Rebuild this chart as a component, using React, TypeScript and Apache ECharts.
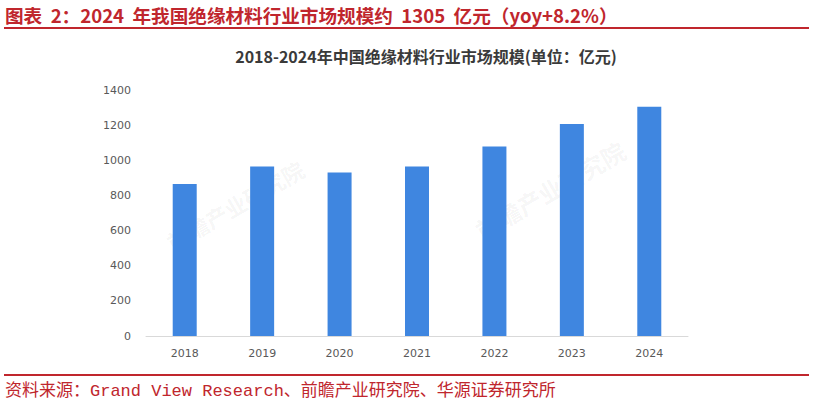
import React, { useEffect, useRef } from "react";
import * as echarts from "echarts";

const categories = ["2018", "2019", "2020", "2021", "2022", "2023", "2024"];
const marketSize = [865, 965, 930, 965, 1078, 1206, 1305];
const yTicks = [0, 200, 400, 600, 800, 1000, 1200, 1400];

const headerText = "图表  2：2024  年我国绝缘材料行业市场规模约  1305  亿元（yoy+8.2%）";
const chartTitle = "2018-2024年中国绝缘材料行业市场规模(单位：亿元)";
const sourceText = "资料来源：Grand View Research、前瞻产业研究院、华源证券研究所";
const watermark = "前瞻产业研究院";

export default function App() {
  const ref = useRef<HTMLDivElement>(null);
  useEffect(() => {
    if (!ref.current) return;
    const chart = echarts.init(ref.current, null, { renderer: "svg" });
    const red = "#C0262D";
    chart.setOption({
      animation: false,
      backgroundColor: "#ffffff",
      grid: { left: 146, right: 127, top: 90, bottom: 73 },
      xAxis: {
        type: "category",
        data: categories,
        axisLine: { lineStyle: { color: "#d9d9d9", width: 1 } },
        axisTick: { show: false },
        axisLabel: { color: "#595959", fontSize: 11, margin: 12, fontFamily: "DejaVu Sans, sans-serif" },
      },
      yAxis: {
        type: "value",
        min: yTicks[0],
        max: yTicks[yTicks.length - 1],
        interval: 200,
        axisLine: { show: false },
        axisTick: { show: false },
        splitLine: { show: false },
        axisLabel: {
          color: "#595959",
          fontSize: 11,
          margin: 15,
          fontFamily: "DejaVu Sans, sans-serif",
          formatter: (v: number) => String(v),
        },
      },
      series: [
        {
          type: "bar",
          data: marketSize,
          barWidth: 24,
          itemStyle: { color: "#3F86E0" },
        },
      ],
      graphic: [
        {
          type: "text",
          left: 5,
          top: 5,
          style: {
            text: headerText,
            fill: red,
            font: "bold 18.6px 'Noto Sans CJK SC', sans-serif",
          },
        },
        {
          type: "rect",
          shape: { x: 4, y: 27, width: 805, height: 2 },
          style: { fill: red },
        },
        {
          type: "text",
          x: 426,
          y: 56,
          style: {
            text: chartTitle,
            fill: "#3a3a3a",
            font: "bold 16px 'Noto Sans CJK SC', sans-serif",
            textAlign: "center",
            textVerticalAlign: "middle",
          },
        },
        {
          type: "text",
          x: 235,
          y: 205,
          rotation: Math.PI / 6,
          style: {
            text: watermark,
            fill: "rgba(0,0,0,0.05)",
            font: "bold 22px 'Noto Sans CJK SC', sans-serif",
            textAlign: "center",
            textVerticalAlign: "middle",
          },
        },
        {
          type: "text",
          x: 550,
          y: 190,
          rotation: Math.PI / 6,
          style: {
            text: watermark,
            fill: "rgba(0,0,0,0.05)",
            font: "bold 24px 'Noto Sans CJK SC', sans-serif",
            textAlign: "center",
            textVerticalAlign: "middle",
          },
        },
        {
          type: "rect",
          shape: { x: 4, y: 374, width: 805, height: 2 },
          style: { fill: red },
        },
        {
          type: "text",
          left: 5,
          top: 383,
          style: {
            text: sourceText,
            fill: red,
            font: "17px 'Liberation Mono', 'Noto Sans CJK SC', monospace",
          },
        },
      ],
    });
    return () => chart.dispose();
  }, []);
  return <div ref={ref} style={{ width: 815, height: 409, position: "absolute", left: 0, top: 0 }} />;
}
